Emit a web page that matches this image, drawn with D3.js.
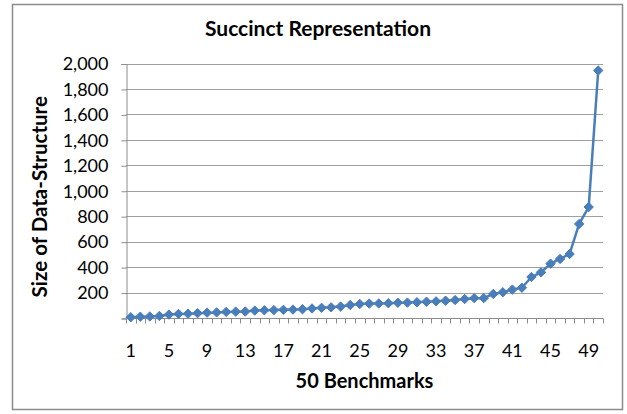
<!DOCTYPE html>
<html><head><meta charset="utf-8">
<script src="https://cdn.jsdelivr.net/npm/d3@7"></script>
<style>body{margin:0;background:#fff}svg{display:block}text{font-family:Lato,"Open Sans",sans-serif;fill:#000}</style>
</head><body><svg id="c" width="627" height="414"></svg>
<script>
const categories = d3.range(1, 51);
const values = [6,10,12,16,27,32,34,38,42,44,48,50,51,58,61,62,64,66,69,75,80,84,90,102,110,113,114,116,120,121,124,128,131,136,141,149,156,156,189,202,223,238,322,359,427,464,503,739,872,1945];
const yTicks = [0,200,400,600,800,1000,1200,1400,1600,1800,2000];
const xLabels = [1,5,9,13,17,21,25,29,33,37,41,45,49];
const title = "Succinct Representation";
const xTitle = "50 Benchmarks";
const yTitle = "Size of Data-Structure";

const svg = d3.select("#c");
svg.append("rect").attr("x",12.5).attr("y",4.5).attr("width",610).attr("height",405)
  .attr("fill","#fff").attr("stroke","#8c8c8c").attr("stroke-width",1.5);

const L=126, R=603, T=63.5, B=318;
const x = d3.scaleBand().domain(categories).range([L,R]).padding(0);
const y = d3.scaleLinear().domain([0,2000]).range([B,T]);

// gridlines
svg.append("g").selectAll("line").data(yTicks.filter(d=>d>0)).join("line")
  .attr("x1",L).attr("x2",R).attr("y1",d=>Math.round(y(d))+0.5).attr("y2",d=>Math.round(y(d))+0.5)
  .attr("stroke","#a0a0a0").attr("stroke-width",1);

// y axis
const yAxis = d3.axisLeft(y).tickValues(yTicks).tickSize(5).tickPadding(13)
  .tickFormat(d=> d===0 ? "" : d3.format(",")(d));
const gy = svg.append("g").attr("transform",`translate(${L+0.5},0.5)`).call(yAxis);
gy.select(".domain").attr("stroke","#8c8c8c");
gy.selectAll(".tick line").attr("stroke","#8c8c8c");
gy.selectAll("text").style("font-size","18px").style("font-family","Lato, sans-serif");

// x axis
const gx = svg.append("g").attr("transform",`translate(0,${B+0.5})`);
gx.append("line").attr("x1",L).attr("x2",R).attr("stroke","#8c8c8c");
const edges = categories.map(c=>x(c)).concat([R]);
gx.selectAll("line.t").data(edges).join("line").attr("class","t")
  .attr("x1",d=>Math.round(d)+0.5).attr("x2",d=>Math.round(d)+0.5).attr("y1",0).attr("y2",5).attr("stroke","#8c8c8c");
gx.selectAll("text").data(xLabels).join("text")
  .attr("x",d=>x(d)+x.bandwidth()/2).attr("y",38).attr("text-anchor","middle")
  .style("font-size","18px").text(d=>d);

// line + markers
const cx = d=>x(d)+x.bandwidth()/2;
const data = categories.map((c,i)=>({c, v:values[i]}));
svg.append("path").datum(data)
  .attr("d", d3.line().x(d=>cx(d.c)).y(d=>y(d.v)))
  .attr("fill","none").attr("stroke","#4a7ebb").attr("stroke-width",2.5).attr("stroke-linejoin","round");
svg.append("g").selectAll("path").data(data).join("path")
  .attr("transform",d=>`translate(${cx(d.c)},${y(d.v)})`)
  .attr("d", d3.symbol().type(d3.symbolDiamond2).size(56))
  .attr("fill","#4a7ebb").attr("stroke","#4a7ebb").attr("stroke-width",1);

// titles
svg.append("text").attr("x",318).attr("y",36).attr("text-anchor","middle")
  .style("font-size","21px").style("font-weight","bold").text(title);
svg.append("text").attr("x",(L+R)/2).attr("y",388).attr("text-anchor","middle")
  .style("font-size","20px").style("font-weight","bold").text(xTitle);
svg.append("text").attr("transform",`translate(47,${(T+B)/2 + 6}) rotate(-90)`).attr("text-anchor","middle")
  .style("font-size","20.5px").style("font-weight","bold").text(yTitle);
</script></body></html>
